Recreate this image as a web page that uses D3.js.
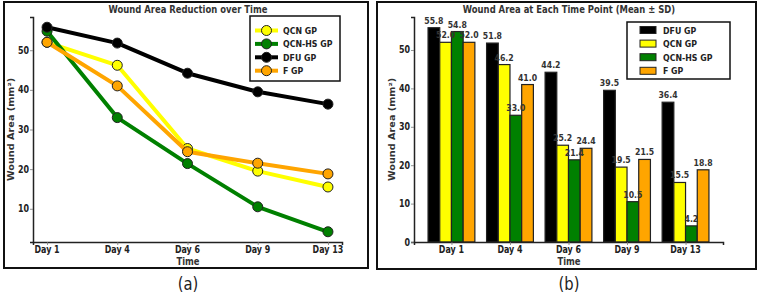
<!DOCTYPE html>
<html><head><meta charset="utf-8">
<script src="https://cdn.jsdelivr.net/npm/d3@7"></script>
<style>body{margin:0;background:#fff}svg{display:block;font-family:"DejaVu Sans",sans-serif}</style>
</head><body><svg id="c" width="761" height="299"></svg>
<script>
const days = ["Day 1","Day 4","Day 6","Day 9","Day 13"];
const dfu = [55.8,51.8,44.2,39.5,36.4];
const qcn = [52.0,46.2,25.2,19.5,15.5];
const qcnhs = [54.8,33.0,21.4,10.5,4.2];
const fgp = [52.0,41.0,24.4,21.5,18.8];
const lineTicks = [10,20,30,40,50];
const barTicks = [0,10,20,30,40,50];
const lineSeries = [
  {name:"QCN GP", values:qcn, color:"#ffff00"},
  {name:"QCN-HS GP", values:qcnhs, color:"#008000"},
  {name:"DFU GP", values:dfu, color:"#000000"},
  {name:"F GP", values:fgp, color:"#ffa500"}
];
const barSeries = [
  {name:"DFU GP", values:dfu, color:"#000000"},
  {name:"QCN GP", values:qcn, color:"#ffff00"},
  {name:"QCN-HS GP", values:qcnhs, color:"#008000"},
  {name:"F GP", values:fgp, color:"#ffa500"}
];
const svg = d3.select("#c");
const txt = "#333";
const SX = 0.82;

function T(parent, x, y, s, size, anchor, opts){
  opts = opts || {};
  const rot = opts.rotate ? " rotate(-90) scale(1," + SX + ")" : " scale(" + SX + ",1)";
  return parent.append("text").attr("transform", `translate(${x},${y})` + rot)
    .attr("text-anchor", anchor || "middle").attr("font-size", size)
    .attr("font-weight", opts.normal ? "normal" : "bold")
    .attr("fill", opts.fill || txt).text(s);
}
function frame(x0,y0,x1,y1){
  svg.append("rect").attr("x",x0).attr("y",y0).attr("width",x1-x0).attr("height",y1-y0)
    .attr("fill","none").attr("stroke","#111").attr("stroke-width",2);
}
function axes(g, x, y, ticks){
  const gy = g.append("g").attr("transform",`translate(${x.range()[0]},0)`)
    .call(d3.axisLeft(y).tickValues(ticks).tickSize(3).tickFormat(""));
  const gx = g.append("g").attr("transform",`translate(0,${y.range()[0]})`)
    .call(d3.axisBottom(x).tickValues(d3.range(days.length)).tickSize(3).tickFormat(""));
  [gx,gy].forEach(a=>{
    a.select(".domain").attr("stroke","#222").attr("stroke-width",1.5);
    a.selectAll(".tick line").attr("stroke","#777").attr("stroke-width",0.8);
  });
  ticks.forEach(t=>T(g, x.range()[0]-4, y(t)+3.5, String(t), 9.7, "end", {fill:"#222"}));
  days.forEach((d,i)=>T(g, x(i), y.range()[0]+10.8, d, 9.7, "middle", {fill:"#222"}));
}

// ---------- Panel (a) ----------
frame(4,2,368,268);
const xa = d3.scaleLinear().domain([-0.2,4.2]).range([33,342]);
const ya = d3.scaleLinear().domain([1.62,58.38]).range([242,17]);
const ga = svg.append("g");
axes(ga, xa, ya, lineTicks);
T(svg,188,13.2,"Wound Area Reduction over Time",10.3);
T(svg,188,265,"Time",10.3);
T(svg,13.8,129.5,"Wound Area (mm²)",9.7,"middle",{rotate:true});
const line = d3.line().x((d,i)=>xa(i)).y(d=>ya(d));
lineSeries.forEach(s=>{
  ga.append("path").attr("d",line(s.values)).attr("fill","none").attr("stroke",s.color)
    .attr("stroke-width",4).attr("stroke-linejoin","round").attr("stroke-linecap","butt");
  ga.selectAll(null).data(s.values).enter().append("circle")
    .attr("cx",(d,i)=>xa(i)).attr("cy",d=>ya(d)).attr("r",5)
    .attr("fill",s.color).attr("stroke","#222").attr("stroke-width",1);
});
const la = svg.append("g");
la.append("rect").attr("x",250).attr("y",16).attr("width",90).attr("height",65)
  .attr("fill","#fff").attr("stroke","#111").attr("stroke-width",1.5);
lineSeries.forEach((s,i)=>{
  const yy = 30.5 + i*13.4;
  la.append("line").attr("x1",255).attr("x2",278).attr("y1",yy).attr("y2",yy).attr("stroke",s.color).attr("stroke-width",4);
  la.append("circle").attr("cx",266.5).attr("cy",yy).attr("r",5).attr("fill",s.color).attr("stroke","#222").attr("stroke-width",1);
  T(la,283,yy+3.5,s.name,9.6,"start",{fill:"#222"});
});
T(svg,188,290,"(a)",18,"middle",{normal:true,fill:"#222"});

// ---------- Panel (b) ----------
frame(377,2,756,269);
const xb = d3.scaleLinear().domain([-0.64,4.64]).range([414,723]);
const yb = d3.scaleLinear().domain([0,58.59]).range([242,17]);
const gb = svg.append("g");
const bw = xb(0.2)-xb(0);
barSeries.forEach((s,k)=>{
  const off = (k-1.5)*0.2;
  gb.selectAll(null).data(s.values).enter().append("rect")
    .attr("x",(d,i)=>xb(i+off-0.1)).attr("width",bw)
    .attr("y",d=>yb(d)).attr("height",d=>yb(0)-yb(d))
    .attr("fill",s.color).attr("stroke","#222").attr("stroke-width",1.2);
});
barSeries.forEach((s,k)=>{
  const off = (k-1.5)*0.2;
  s.values.forEach((d,i)=>T(gb, xb(i+off), yb(d)-4, d.toFixed(1), 9.5));
});
axes(gb, xb, yb, barTicks);
T(svg,569,13.2,"Wound Area at Each Time Point (Mean ± SD)",10.3);
T(svg,569,265,"Time",10.3);
T(svg,394.8,129.5,"Wound Area (mm²)",9.7,"middle",{rotate:true});
const lb = svg.append("g");
lb.append("rect").attr("x",627).attr("y",22).attr("width",103).attr("height",57)
  .attr("fill","#fff").attr("stroke","#111").attr("stroke-width",1.5);
barSeries.forEach((s,i)=>{
  const yy = 30 + i*13.6;
  lb.append("rect").attr("x",640).attr("y",yy-3.5).attr("width",16).attr("height",7)
    .attr("fill",s.color).attr("stroke","#222").attr("stroke-width",1);
  T(lb,663,yy+3.5,s.name,9.6,"start",{fill:"#222"});
});
T(svg,569,290,"(b)",18,"middle",{normal:true,fill:"#222"});
</script></body></html>
